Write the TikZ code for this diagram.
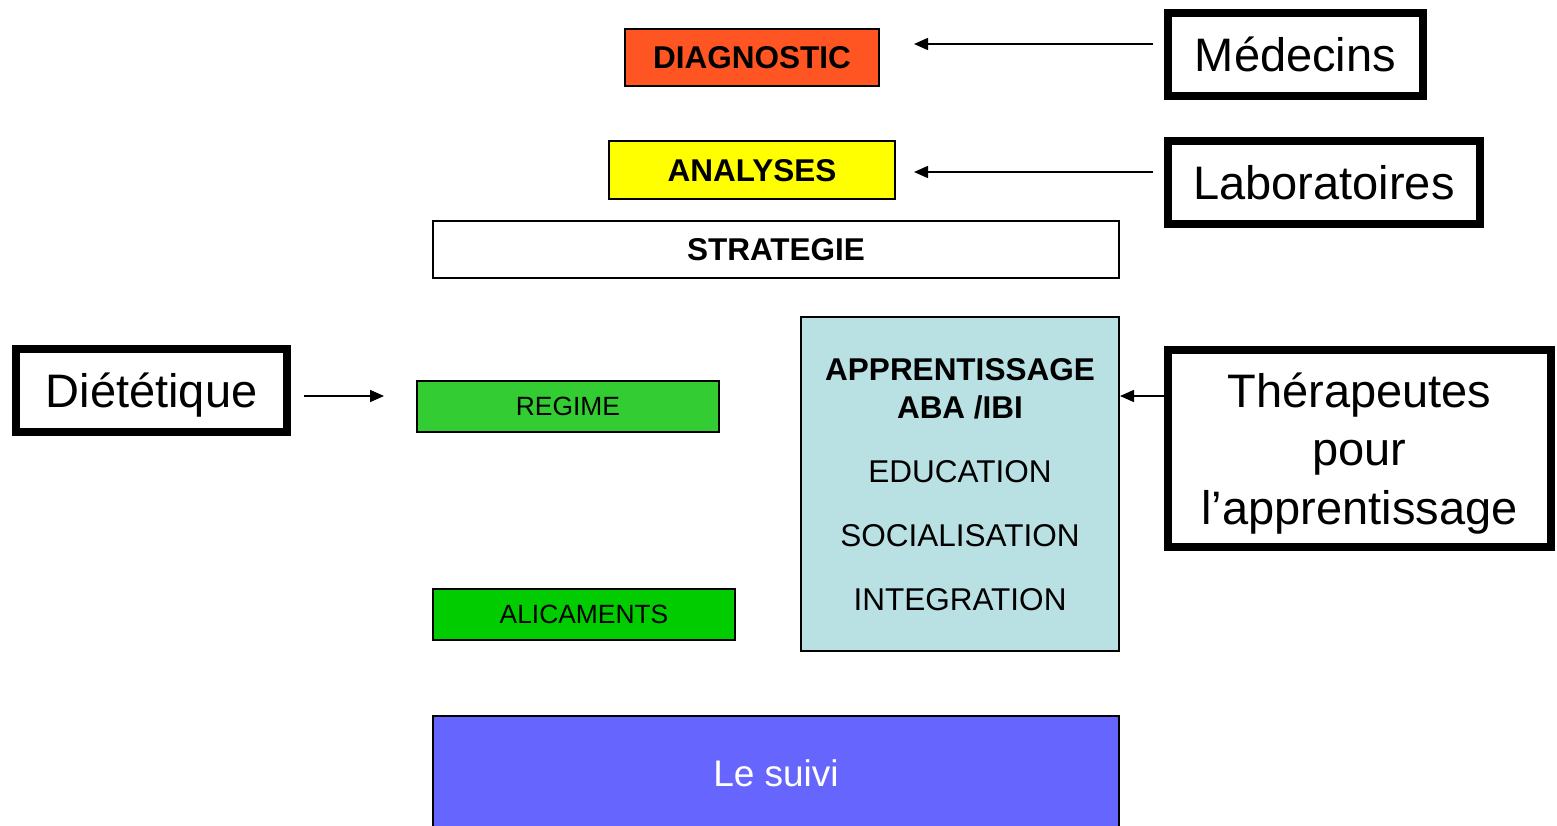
\documentclass[tikz,border=0pt]{standalone}
\usepackage{fontspec}
\setmainfont{Liberation Sans}
\usetikzlibrary{arrows.meta}
\definecolor{diagred}{HTML}{FF5522}
\definecolor{anayellow}{HTML}{FFFF00}
\definecolor{regimegreen}{HTML}{33CC33}
\definecolor{aligreen}{HTML}{00CC00}
\definecolor{apprblue}{HTML}{B9E0E3}
\definecolor{suivipurple}{HTML}{6666FF}
\newcommand*\bigtxt{\fontsize{31.5}{38}\selectfont}
\newcommand*\smalltxt{\fontsize{26.4}{32}\selectfont}

\begin{document}
\begin{tikzpicture}[x=1pt,y=-1pt,
		box/.style={draw,line width=2pt,inner sep=0pt,align=center,text depth=0pt},
		actor/.style={draw,line width=8pt,inner sep=0pt,align=center,text depth=0pt,font=\fontsize{47}{58.5}\selectfont},
		arr/.style={-{Triangle[length=14pt,width=12pt]},line width=1.6pt}]
		\path[use as bounding box,clip] (0,0) rectangle (1557,825);
		% Main column of boxes
		\node[box,fill=diagred,minimum width=254pt,minimum height=57pt,font=\bigtxt\bfseries] (diag) at (752,57.5) {DIAGNOSTIC};
		\node[box,fill=anayellow,minimum width=286pt,minimum height=58pt,font=\bigtxt\bfseries] (ana) at (752,170) {ANALYSES};
		\node[box,fill=white,minimum width=686pt,minimum height=57pt,font=\bigtxt\bfseries] (strat) at (776,249.5) {STRATEGIE};
		\node[box,fill=regimegreen,minimum width=302pt,minimum height=51pt,font=\smalltxt] (regime) at (568,406.5) {REGIME};
		\node[box,fill=aligreen,minimum width=302pt,minimum height=51pt,font=\smalltxt] (ali) at (584,614.5) {ALICAMENTS};
		\node[box,fill=apprblue,minimum width=318pt,minimum height=334pt,font=\bigtxt] (appr) at (960,484)
			{{\bfseries APPRENTISSAGE}\\{\bfseries ABA /IBI}\\[26pt]EDUCATION\\[26pt]SOCIALISATION\\[26pt]INTEGRATION};
		\node[box,fill=suivipurple,text=white,minimum width=686pt,minimum height=114pt,font=\fontsize{37}{44}\selectfont] (suivi) at (776,773) {Le suivi};
		% Actors
		\node[actor,minimum width=255pt,minimum height=83pt] (med) at (1295.5,54.5) {Médecins};
		\node[actor,minimum width=312pt,minimum height=83pt] (lab) at (1324,182.5) {Laboratoires};
		\node[actor,minimum width=271pt,minimum height=83pt] (diet) at (151.5,390.5) {Diététique};
		\node[actor,minimum width=383pt,minimum height=197pt] (ther) at (1359.5,448.5) {Thérapeutes\\pour\\l’apprentissage};
		% Arrows
		\draw[arr,shorten <=11pt,shorten >=34pt] ([yshift=10.5pt]med.west) -- ([yshift=13.5pt]diag.east);
		\draw[arr,shorten <=11pt,shorten >=18pt] ([yshift=10.5pt]lab.west) -- ([yshift=-2pt]ana.east);
		\draw[arr,shorten <=13pt,shorten >=32pt] ([yshift=-5.5pt]diet.east) -- ([yshift=10.5pt]regime.west);
		\draw[arr] ([yshift=52.5pt]ther.west) -- ([yshift=88pt]appr.east);
	\end{tikzpicture}
\end{document}
